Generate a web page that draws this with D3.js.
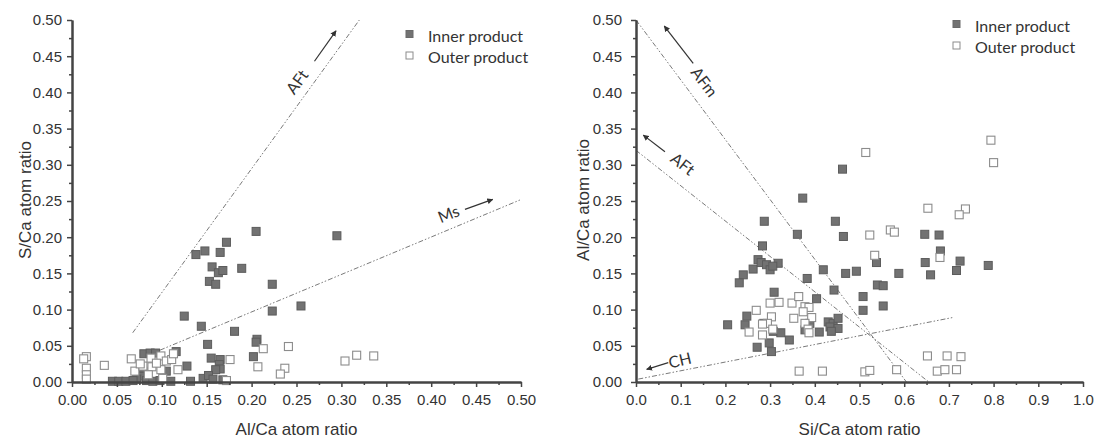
<!DOCTYPE html>
<html>
<head>
<meta charset="utf-8">
<script src="https://cdn.jsdelivr.net/npm/d3@7"></script>
<style>
body { margin: 0; background: #fff; }
</style>
</head>
<body>
<script>
const WIDTH = 1097;
const HEIGHT = 440;

// left panel: S/Ca vs Al/Ca
var leftInner = [
    [0.138, 0.176], [0.148, 0.181], [0.165, 0.179], [0.172, 0.193], [0.205, 0.208],
    [0.156, 0.159], [0.163, 0.151], [0.168, 0.154], [0.153, 0.139], [0.160, 0.135],
    [0.189, 0.157], [0.223, 0.135], [0.295, 0.202], [0.125, 0.091], [0.144, 0.077],
    [0.181, 0.070], [0.223, 0.098], [0.255, 0.105], [0.206, 0.059], [0.205, 0.055],
    [0.151, 0.052], [0.202, 0.035], [0.155, 0.033], [0.165, 0.031], [0.164, 0.024],
    [0.165, 0.018], [0.160, 0.017], [0.128, 0.022], [0.116, 0.042], [0.105, 0.015],
    [0.080, 0.039], [0.087, 0.040], [0.093, 0.040], [0.079, 0.015], [0.076, 0.008],
    [0.072, 0.004], [0.146, 0.005], [0.152, 0.009], [0.045, 0.001], [0.052, 0.001],
    [0.060, 0.001], [0.068, 0.002], [0.083, 0.002], [0.090, 0.001], [0.098, 0.002],
    [0.110, 0.001], [0.132, 0.001], [0.157, 0.004], [0.168, 0.003]
];
var leftOuter = [
    [0.016, 0.035], [0.013, 0.032], [0.016, 0.019], [0.016, 0.010], [0.016, 0.004],
    [0.036, 0.023], [0.066, 0.032], [0.070, 0.015], [0.079, 0.022], [0.089, 0.021],
    [0.088, 0.033], [0.099, 0.036], [0.099, 0.017], [0.105, 0.029], [0.111, 0.031],
    [0.113, 0.039], [0.118, 0.017], [0.094, 0.026], [0.085, 0.010], [0.176, 0.031],
    [0.172, 0.002], [0.213, 0.046], [0.207, 0.021], [0.241, 0.049], [0.237, 0.019],
    [0.232, 0.011], [0.304, 0.029], [0.317, 0.037], [0.336, 0.036], [0.101, 0.005],
    [0.076, 0.025]
];
var leftLines = [
    [[0.0676, 0.068], [0.32, 0.5]],   // AFt
    [[0.098, 0.044], [0.5, 0.252]]    // Ms
];
var leftArrows = [
    [[0.270, 0.443], [0.294, 0.485]],
    [[0.4376, 0.2385], [0.4685, 0.2523]]
];
var leftLabels = [
    { text: 'AFt', x: 0.250, y: 0.415, angle: -54 },
    { text: 'Ms', x: 0.419, y: 0.233, angle: -22 }
];
var leftTicksX = [0, 0.05, 0.10, 0.15, 0.20, 0.25, 0.30, 0.35, 0.40, 0.45, 0.50];
var leftMinorX = [0.025, 0.075, 0.125, 0.175, 0.225, 0.275, 0.325, 0.375, 0.425, 0.475];

// right panel: Al/Ca vs Si/Ca
var rightInner = [
    [0.462, 0.294], [0.373, 0.254], [0.287, 0.222], [0.446, 0.222], [0.361, 0.204],
    [0.464, 0.201], [0.283, 0.188], [0.273, 0.169], [0.262, 0.156], [0.280, 0.165],
    [0.292, 0.162], [0.300, 0.155], [0.318, 0.164], [0.306, 0.160], [0.240, 0.148],
    [0.231, 0.137], [0.383, 0.143], [0.419, 0.155], [0.469, 0.150], [0.493, 0.153],
    [0.443, 0.127], [0.404, 0.115], [0.309, 0.124], [0.508, 0.118], [0.508, 0.099],
    [0.538, 0.165], [0.540, 0.134], [0.553, 0.133], [0.553, 0.105], [0.646, 0.204],
    [0.678, 0.203], [0.681, 0.181], [0.647, 0.165], [0.725, 0.167], [0.788, 0.161],
    [0.588, 0.150], [0.659, 0.148], [0.717, 0.154], [0.248, 0.091], [0.205, 0.079],
    [0.244, 0.079], [0.286, 0.081], [0.307, 0.070], [0.324, 0.068], [0.343, 0.058],
    [0.298, 0.054], [0.271, 0.048], [0.303, 0.042], [0.378, 0.072], [0.389, 0.081],
    [0.430, 0.083], [0.441, 0.081], [0.452, 0.088], [0.434, 0.076], [0.452, 0.074],
    [0.410, 0.069], [0.437, 0.070]
];
var rightOuter = [
    [0.794, 0.334], [0.800, 0.303], [0.514, 0.317], [0.653, 0.240], [0.737, 0.239],
    [0.723, 0.231], [0.523, 0.203], [0.569, 0.210], [0.578, 0.207], [0.534, 0.175],
    [0.680, 0.172], [0.652, 0.036], [0.696, 0.036], [0.727, 0.035], [0.512, 0.014],
    [0.523, 0.016], [0.583, 0.017], [0.674, 0.015], [0.691, 0.017], [0.717, 0.017],
    [0.365, 0.015], [0.417, 0.015], [0.300, 0.109], [0.320, 0.110], [0.349, 0.109],
    [0.364, 0.118], [0.378, 0.104], [0.387, 0.103], [0.269, 0.099], [0.353, 0.088],
    [0.374, 0.097], [0.393, 0.089], [0.378, 0.081], [0.303, 0.090], [0.294, 0.081],
    [0.283, 0.080], [0.253, 0.069], [0.283, 0.065], [0.306, 0.073], [0.385, 0.073],
    [0.387, 0.068]
];
var rightLines = [
    [[0, 0.5], [0.605, 0]],          // AFm
    [[0, 0.32], [0.655, 0]],         // AFt
    [[0.005, 0.004], [0.708, 0.089]] // CH
];
var rightArrows = [
    [[0.128, 0.440], [0.0633, 0.4917]],
    [[0.0648, 0.318], [0.0163, 0.341]],
    [[0.0722, 0.0267], [0.0239, 0.0175]]
];
var rightLabels = [
    { text: 'AFm', x: 0.154, y: 0.415, angle: 53 },
    { text: 'AFt', x: 0.1057, y: 0.302, angle: 38 },
    { text: 'CH', x: 0.098, y: 0.031, angle: -13 }
];
var rightTicksX = [0, 0.1, 0.2, 0.3, 0.4, 0.5, 0.6, 0.7, 0.8, 0.9, 1.0];
var rightMinorX = [0.05, 0.15, 0.25, 0.35, 0.45, 0.55, 0.65, 0.75, 0.85, 0.95];

var ticksY = [0, 0.05, 0.10, 0.15, 0.20, 0.25, 0.30, 0.35, 0.40, 0.45, 0.50];
var minorY = [0.025, 0.075, 0.125, 0.175, 0.225, 0.275, 0.325, 0.375, 0.425, 0.475];
var legendItems = ['Inner product', 'Outer product'];

var svg = d3.select('body')
    .append('svg')
    .attr('width', WIDTH)
    .attr('height', HEIGHT);

var defs = svg.append('defs');
defs.append('marker')
    .attr('id', 'head')
    .attr('viewBox', '0 0 10 10')
    .attr('refX', 9)
    .attr('refY', 5)
    .attr('markerWidth', 6)
    .attr('markerHeight', 6)
    .attr('markerUnits', 'userSpaceOnUse')
    .attr('orient', 'auto')
    .append('path')
    .attr('d', 'M0,0 L10,5 L0,10 z')
    .attr('fill', '#333');

function drawPanel(p) {
    var x = d3.scaleLinear().domain([0, p.xMax]).range([p.left, p.right]);
    var y = d3.scaleLinear().domain([0, 0.5]).range([382, 20]);
    var g = svg.append('g');

    g.selectAll('.ref')
        .data(p.lines)
        .enter()
        .append('line')
        .attr('x1', function(d) { return x(d[0][0]); })
        .attr('y1', function(d) { return y(d[0][1]); })
        .attr('x2', function(d) { return x(d[1][0]); })
        .attr('y2', function(d) { return y(d[1][1]); })
        .attr('stroke', '#7a7a7a')
        .attr('stroke-width', 1)
        .attr('stroke-dasharray', '5,2,1.5,2,1.5,2');

    g.selectAll('.arrow')
        .data(p.arrows)
        .enter()
        .append('line')
        .attr('x1', function(d) { return x(d[0][0]); })
        .attr('y1', function(d) { return y(d[0][1]); })
        .attr('x2', function(d) { return x(d[1][0]); })
        .attr('y2', function(d) { return y(d[1][1]); })
        .attr('stroke', '#333')
        .attr('stroke-width', 1.2)
        .attr('marker-end', 'url(#head)');

    g.selectAll('.lab')
        .data(p.labels)
        .enter()
        .append('text')
        .attr('transform', function(d) {
            return 'translate(' + x(d.x) + ',' + y(d.y) + ') rotate(' + d.angle + ')';
        })
        .attr('text-anchor', 'middle')
        .attr('dominant-baseline', 'central')
        .attr('font-family', 'Lato')
        .attr('font-size', '16px')
        .attr('fill', '#333')
        .text(function(d) { return d.text; });

    g.selectAll('.inner')
        .data(p.inner)
        .enter()
        .append('rect')
        .attr('x', function(d) { return x(d[0]) - 4; })
        .attr('y', function(d) { return y(d[1]) - 4; })
        .attr('width', 8)
        .attr('height', 8)
        .attr('fill', '#727272')
        .attr('stroke', '#5c5c5c')
        .attr('stroke-width', 1);

    g.selectAll('.outer')
        .data(p.outer)
        .enter()
        .append('rect')
        .attr('x', function(d) { return x(d[0]) - 4; })
        .attr('y', function(d) { return y(d[1]) - 4; })
        .attr('width', 8)
        .attr('height', 8)
        .attr('fill', '#fff')
        .attr('stroke', '#8c8c8c')
        .attr('stroke-width', 1.1);

    // axes, minor ticks first
    var xMinor = g.append('g').attr('transform', 'translate(0,382)')
        .call(d3.axisBottom(x).tickValues(p.minorX).tickSize(3).tickSizeOuter(0).tickFormat(''));
    var yMinor = g.append('g').attr('transform', 'translate(' + p.left + ',0)')
        .call(d3.axisLeft(y).tickValues(minorY).tickSize(3).tickSizeOuter(0).tickFormat(''));
    var xAxis = g.append('g').attr('transform', 'translate(0,382)')
        .call(d3.axisBottom(x).tickValues(p.ticksX).tickSize(5).tickSizeOuter(0).tickPadding(7)
            .tickFormat(d3.format(p.xFormat)));
    var yAxis = g.append('g').attr('transform', 'translate(' + p.left + ',0)')
        .call(d3.axisLeft(y).tickValues(ticksY).tickSize(5).tickSizeOuter(0).tickPadding(p.yPad)
            .tickFormat(d3.format('.2f')));

    [xMinor, yMinor, xAxis, yAxis].forEach(function(a) {
        a.select('.domain').attr('stroke', '#444').attr('stroke-width', 2);
        a.selectAll('.tick line').attr('stroke', '#444').attr('stroke-width', 1.5);
        a.selectAll('.tick text')
            .attr('font-family', 'Liberation Sans')
            .attr('font-size', '15px')
            .attr('fill', '#333');
    });

    g.append('text')
        .attr('x', (p.left + p.right) / 2)
        .attr('y', 435)
        .attr('text-anchor', 'middle')
        .attr('font-family', 'Liberation Sans')
        .attr('font-size', '17px')
        .attr('fill', '#333')
        .text(p.xTitle);

    g.append('text')
        .attr('transform', 'translate(' + p.yTitleX + ',200) rotate(-90)')
        .attr('text-anchor', 'middle')
        .attr('font-family', 'Liberation Sans')
        .attr('font-size', '17px')
        .attr('fill', '#333')
        .text(p.yTitle);

    // legend
    var leg = g.selectAll('.leg')
        .data(legendItems)
        .enter()
        .append('g')
        .attr('transform', function(d, i) {
            return 'translate(' + p.legendX + ',' + (p.legendY + i * 21.5) + ')';
        });
    leg.append('rect')
        .attr('x', 0)
        .attr('y', -11)
        .attr('width', 7)
        .attr('height', 7)
        .attr('fill', function(d, i) { return i === 0 ? '#727272' : '#fff'; })
        .attr('stroke', function(d, i) { return i === 0 ? '#6a6a6a' : '#8c8c8c'; })
        .attr('stroke-width', 1);
    leg.append('text')
        .attr('x', 22)
        .attr('y', 0)
        .attr('font-family', 'Lato')
        .attr('font-size', '16px')
        .attr('fill', '#333')
        .text(function(d) { return d; });
}

drawPanel({
    left: 72, right: 521, xMax: 0.5,
    inner: leftInner, outer: leftOuter,
    lines: leftLines, arrows: leftArrows, labels: leftLabels,
    ticksX: leftTicksX, minorX: leftMinorX, xFormat: '.2f',
    xTitle: 'Al/Ca atom ratio', yTitle: 'S/Ca atom ratio',
    yPad: 5, yTitleX: 31,
    legendX: 406, legendY: 41.5
});

drawPanel({
    left: 636, right: 1083, xMax: 1.0,
    inner: rightInner, outer: rightOuter,
    lines: rightLines, arrows: rightArrows, labels: rightLabels,
    ticksX: rightTicksX, minorX: rightMinorX, xFormat: '.1f',
    xTitle: 'Si/Ca atom ratio', yTitle: 'Al/Ca atom ratio',
    yPad: 9, yTitleX: 589,
    legendX: 953, legendY: 31.5
});
</script>
</body>
</html>
